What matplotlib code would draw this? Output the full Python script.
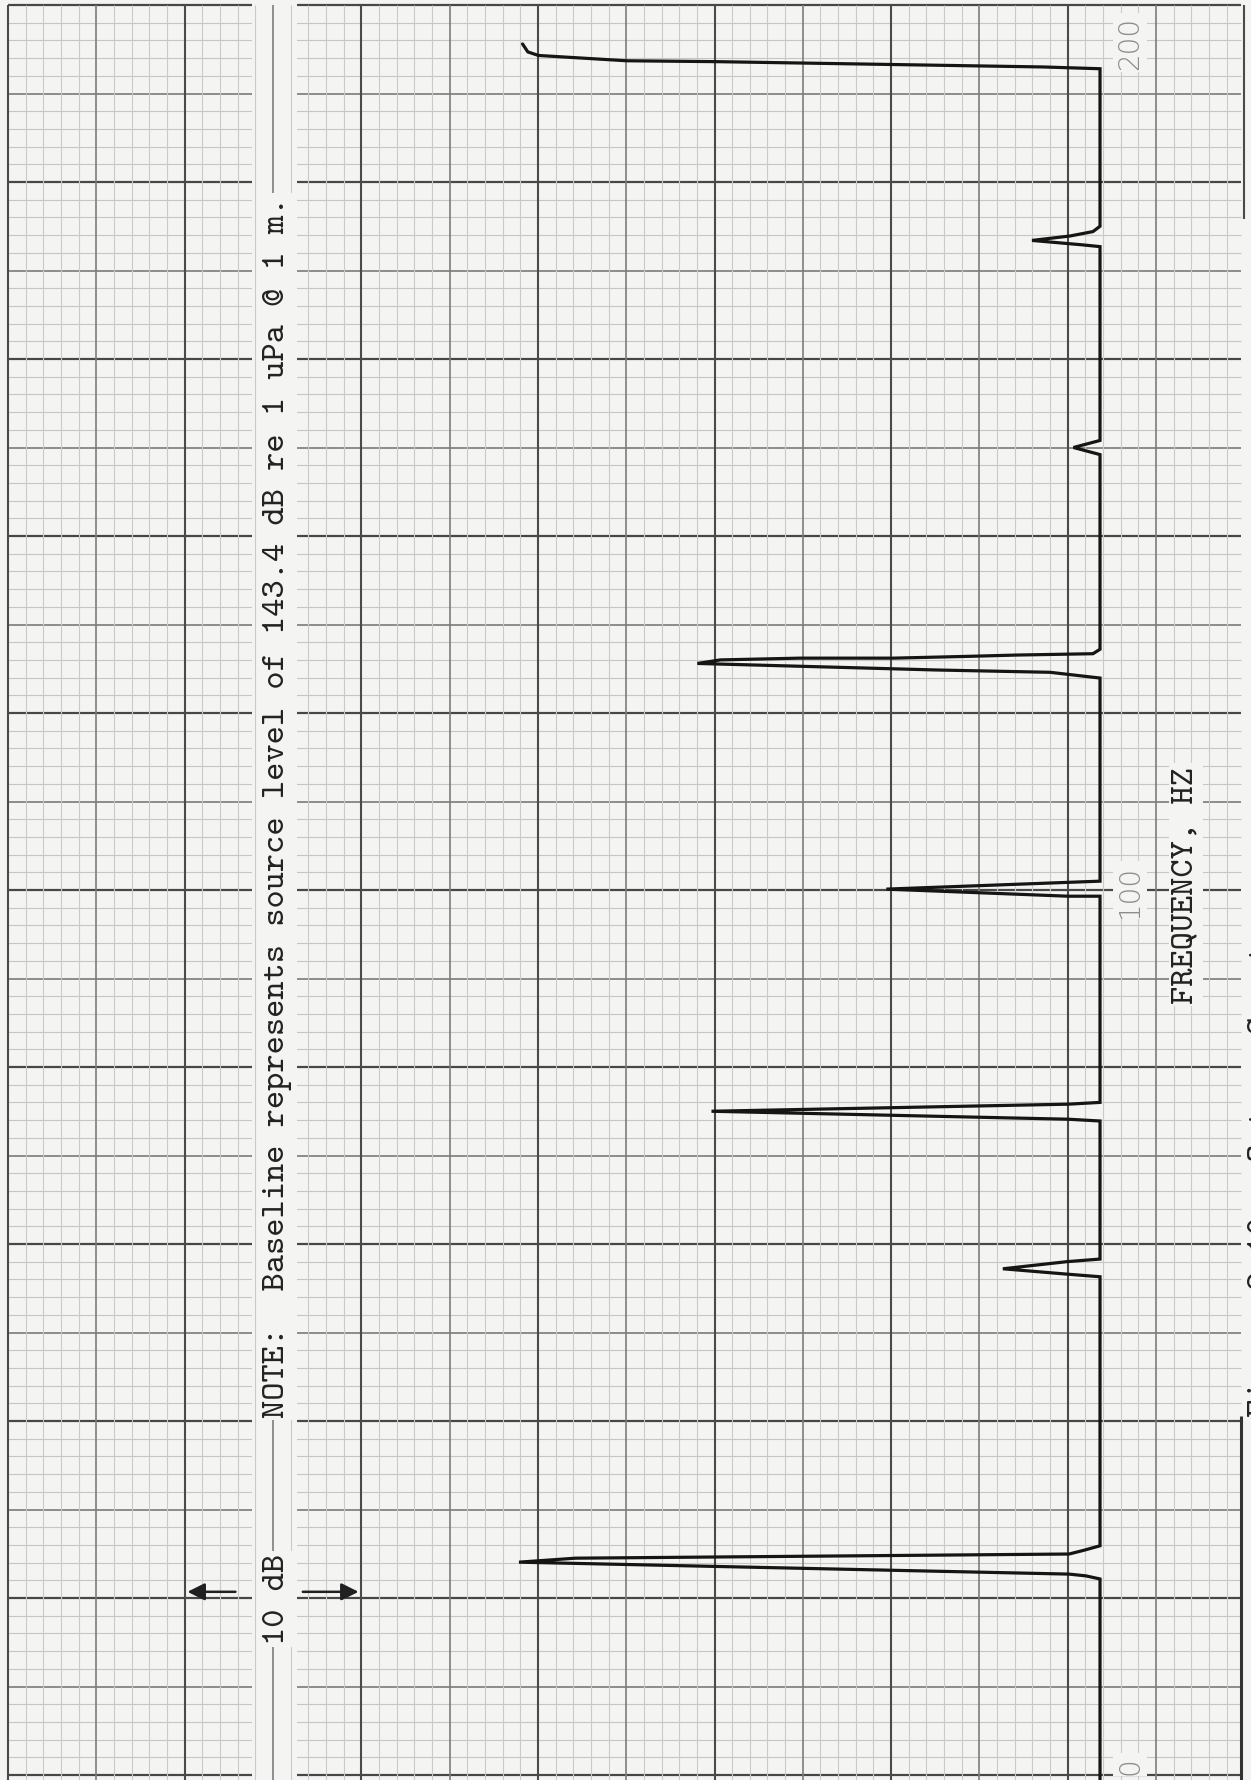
import matplotlib
matplotlib.use("Agg")
import matplotlib.pyplot as plt

# trace: frequency (Hz) and level above baseline (dB)
freq_hz = [-1.0,
           22.15, 22.5, 22.7, 24.05, 24.5, 24.97, 25.4, 25.9,
           56.3, 56.6, 57.2, 58.0, 58.3,
           73.9, 74.1, 75.0, 75.8, 76.0,
           99.3, 99.3, 100.1, 101.0,
           123.95, 124.6, 124.86, 125.6, 126.0, 126.2, 126.2, 126.4, 126.55, 126.7, 127.2,
           149.2, 150.0, 150.8,
           172.7, 172.9, 173.4, 173.9, 174.4, 175.0,
           192.8, 193.0, 193.6, 193.7, 194.3, 194.7, 195.6]
level_db = [0.0,
            0.0, 0.8, 1.75, 32.9, 29.7, 1.75, 0.9, 0.0,
            0.0, 1.9, 5.5, 1.9, 0.0,
            0.0, 1.8, 22.0, 1.8, 0.0,
            0.0, 1.8, 12.1, 0.0,
            0.0, 2.83, 9.23, 22.8, 21.5, 17.0, 11.7, 7.5, 4.7, 0.4, 0.0,
            0.0, 1.5, 0.0,
            0.0, 1.0, 3.85, 1.7, 0.4, 0.0,
            0.0, 3.2, 21.7, 26.8, 31.8, 32.4, 32.7]

freq_labels = [0, 100, 200]
note_text = "NOTE:  Baseline represents source level of 143.4 dB re 1 uPa @ 1 m."
scale_text = "10 dB"
scale_db = [51.83, 41.83]
axis_text = "FREQUENCY, HZ"
caption_text = "Figure 2-10.  Octave Spectrum"

paper = "#f4f4f2"
ink = "#151515"
mono = ["cmtt10", "Liberation Mono", "DejaVu Sans Mono"]

fig = plt.figure(figsize=(12.51, 17.81), dpi=100, facecolor=paper)
ax = fig.add_axes([0, 0, 1, 1], facecolor=paper)
ax.set_xlim(62.29, -8.55)
ax.set_ylim(-0.565, 200.68)
ax.set_axis_off()

# chart paper: 2 Hz x 1 dB minor squares, heavier every 10 Hz / 5 dB and 20 Hz / 10 dB
for k in range(0, 101):
    f = 2 * k
    if f % 20 == 0:
        c, w = "#474747", 1.6
    elif f % 10 == 0:
        c, w = "#7a7a7a", 1.2
    else:
        c, w = "#c6c6c6", 0.8
    ax.hlines(f, -8.0, 61.83, colors=c, linewidth=w, zorder=1)

ax.axvspan(45.5, 48.0, color=paper, zorder=1.5, linewidth=0)

for k in range(-10, 61):
    x = 1.83 + k
    if k % 10 == 0:
        c, w = "#4a4a4a", 1.5
    elif k % 5 == 0:
        c, w = "#7c7c7c", 1.2
    else:
        c, w = "#cacaca", 0.8
    if k == -10:
        ax.vlines(x, 175.8, 200, colors=c, linewidth=w, zorder=2)
        ax.vlines(x + 0.2, -0.6, 40.6, colors="#333333", linewidth=2.2, zorder=2)
        continue
    ax.vlines(x, -0.6, 200, colors=c, linewidth=w, zorder=2)

# spectrum trace
ax.plot(level_db, freq_hz, color=ink, linewidth=2.3, solid_joinstyle="miter",
        solid_capstyle="round", zorder=5)

box = dict(facecolor=paper, edgecolor="none", pad=2)

ax.text(46.6, 40.45, note_text, rotation=90, ha="center", va="bottom",
        family=mono, fontsize=25, color="#222222", zorder=6, bbox=box)
ax.text(46.6, 19.9, scale_text, rotation=90, ha="center", va="center",
        family=mono, fontsize=25, color="#222222", zorder=6, bbox=box)

arrow = dict(arrowstyle="-|>", color="#202020", lw=1.8, mutation_scale=26)
ax.annotate("", xy=(scale_db[0], 20.7), xytext=(48.8, 20.7), arrowprops=arrow, zorder=6)
ax.annotate("", xy=(scale_db[1], 20.7), xytext=(45.3, 20.7), arrowprops=arrow, zorder=6)

for v in freq_labels:
    y, va = v, "center"
    if v == freq_labels[0]:
        y, va = v + 0.15, "bottom"
    if v == freq_labels[-1]:
        y, va = v - 1.2, "top"
    ax.text(-1.7, y, str(v), rotation=90, ha="center", va=va, family="DejaVu Sans",
            fontweight="light", fontsize=20, color="#8c8c8c", zorder=6, bbox=box)

ax.text(-4.87, 100.6, axis_text, rotation=90, ha="center", va="center",
        family=mono, fontsize=25, color="#222222", zorder=6, bbox=box)

ax.text(-9.2, 40.6, caption_text, rotation=90, ha="center", va="bottom",
        family=mono, fontsize=25, color="#222222", zorder=6, clip_on=False)

fig.savefig("out.png", dpi=100, facecolor=paper)
